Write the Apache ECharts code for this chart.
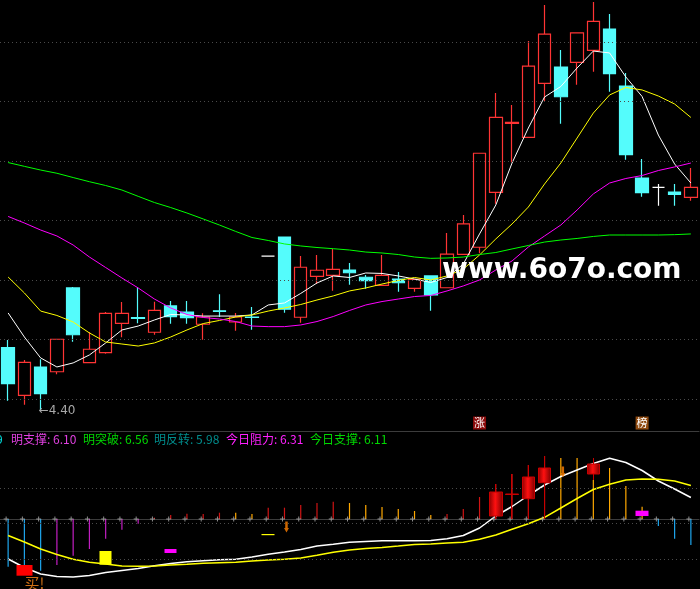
<!DOCTYPE html>
<html><head><meta charset="utf-8">
<script src="https://cdn.jsdelivr.net/npm/echarts@6/dist/echarts.min.js"></script>
<style>html,body{margin:0;padding:0;background:#000;}#c{width:700px;height:589px;}</style>
</head><body><div id="c"></div>
<script>
// ---------- data ----------
const categories = ['01','02','03','04','05','06','07','08','09','10','11','12','13','14','15','16','17','18','19','20','21','22','23','24','25','26','27','28','29','30','31','32','33','34','35','36','37','38','39','40','41','42','43'];
const openP  = [4.931,4.531,4.769,4.729,5.433,4.805,4.889,5.136,5.183,5.061,5.282,5.231,5.128,5.241,5.147,5.189,5.700,5.861,5.187,5.531,5.539,5.584,5.523,5.455,5.508,5.430,5.534,5.435,5.716,5.775,6.237,6.815,6.699,7.153,7.290,7.329,7.430,7.609,7.130,6.357,6.279,6.239,6.195];
const closeP = [4.629,4.808,4.545,5.002,5.040,4.918,5.220,5.220,5.178,5.245,5.192,5.183,5.189,5.237,5.189,5.185,5.700,5.254,5.607,5.582,5.590,5.561,5.494,5.539,5.477,5.506,5.374,5.718,5.971,6.565,6.867,6.825,7.298,7.567,7.040,7.576,7.674,7.234,6.553,6.234,6.279,6.220,6.279];
const lowP   = [4.486,4.452,4.400,4.708,4.982,4.805,4.881,5.018,5.136,5.040,5.133,5.133,4.998,5.189,5.074,5.082,5.700,5.225,5.141,5.466,5.410,5.460,5.427,5.455,5.402,5.402,5.242,5.435,5.716,5.724,6.141,6.489,6.699,7.004,6.813,7.141,7.250,7.082,6.511,6.200,6.124,6.124,6.166];
const highP  = [4.996,4.828,4.834,5.002,5.441,5.063,5.231,5.315,5.439,5.318,5.324,5.324,5.220,5.380,5.223,5.273,5.700,5.865,5.702,5.710,5.761,5.643,5.542,5.710,5.567,5.506,5.534,5.895,6.046,6.565,7.071,6.971,7.508,7.811,7.433,7.576,7.836,7.735,7.239,6.517,6.307,6.307,6.441];
const ma5  = [5.223,5.021,4.845,4.769,4.803,4.870,4.971,5.080,5.113,5.164,5.210,5.206,5.197,5.197,5.197,5.206,5.290,5.307,5.387,5.475,5.534,5.521,5.559,5.555,5.534,5.508,5.479,5.521,5.634,5.887,6.130,6.483,6.777,7.038,7.126,7.282,7.424,7.408,7.206,7.042,6.718,6.475,6.315];
const ma10 = [5.525,5.391,5.239,5.202,5.147,5.055,4.979,4.962,4.945,4.971,5.021,5.080,5.134,5.160,5.189,5.206,5.239,5.265,5.294,5.332,5.366,5.408,5.433,5.466,5.496,5.521,5.500,5.534,5.592,5.710,5.845,5.971,6.113,6.307,6.483,6.693,6.903,7.055,7.118,7.097,7.046,6.979,6.866];
const ma20 = [6.034,5.979,5.920,5.870,5.794,5.693,5.605,5.517,5.433,5.340,5.265,5.210,5.185,5.172,5.151,5.113,5.108,5.108,5.122,5.151,5.193,5.244,5.290,5.319,5.340,5.361,5.370,5.408,5.450,5.500,5.584,5.660,5.777,5.870,5.962,6.088,6.223,6.315,6.353,6.378,6.420,6.450,6.483];
const ma60 = [6.487,6.455,6.424,6.397,6.361,6.326,6.294,6.256,6.203,6.151,6.109,6.063,6.013,5.962,5.908,5.857,5.832,5.803,5.786,5.773,5.763,5.752,5.735,5.727,5.714,5.693,5.682,5.685,5.693,5.714,5.731,5.761,5.790,5.819,5.836,5.849,5.866,5.878,5.878,5.878,5.878,5.881,5.887];
const priceGridLevels = [4.5,5.0,5.5,6.0,6.5,7.0,7.5];
const lowNote = {idx: 2, value: 4.40, text: '←4.40'};
const flagIdx = [29, 39];
const flagText = ['涨','榜'];
const flagColor = ['#8a0a0a','#8f4a10'];
const flagLevel = 4.298;

// indicator panel
const indWhite  = [-40,-48.5,-55,-57.5,-58,-56.5,-53.5,-51.5,-49.5,-46.7,-44.5,-42.7,-41.7,-40.8,-40.2,-38,-35.3,-33,-30.5,-27,-25.3,-23.3,-22.5,-21.8,-21.7,-21.8,-21.5,-19.8,-16.5,-9,3,12.5,23.5,34,42.5,49,55.5,60.7,56.5,48.5,38,30,21.5];
const indYellow = [-16.5,-23,-30,-35.5,-40.3,-43.3,-45,-47,-47.3,-47,-46,-45.3,-44.3,-43.7,-43.3,-42,-41,-40.3,-39,-36.3,-33.3,-31,-29.4,-28.4,-27,-25.5,-25,-24,-23.2,-20.3,-16,-10.3,-4.8,1.7,11,20.5,29.5,34.7,39,40,39.7,38,33.5];
const stickVal  = [-47.7,-46,-51.7,-46,-36.7,-30,-19.7,-10.7,-4.7,1.3,4,5.3,5,6.3,6.3,5,11.3,11.3,14,16,17.3,16,14,12,10,8,4,5,10,22,35,45,54,63,61,61,39,51,33,12.3,-7,-19.7,-26];
const stickKind = ['C','C','C','M','M','M','M','M','M','R','R','R','R','R','O','O','R','R','R','R','R','O','O','O','O','O','O','R','R','R','R','R','R','R','O','O','O','O','O','O','C','C','C'];
const stickColors = {C:'#1ea6ee', M:'#c21ec2', R:'#d01414', O:'#ffa800'};
const barIdx  = [30,31,32,33,36];
const barOHLC = [[3,27,0,35],[24.5,25,0,45],[20.3,42,0,54],[36.3,51,0,63],[45,55,39,61]];
const sigIdx   = [6,10,16,39];
const sigRange = [[-32,-45.7],[-30,-34],[-15,-16.2],[8.3,3]];
const sigColor = ['#ffff00','#ff00ff','#ffff00','#ff00ff'];
const buyIdx = 1, buyRange = [-46,-56.7], buyText = '买!', buyTextLevel = -64;
const arrowIdx = [17,34], arrowLevel = [-8,47];
const indGridLevels = [30.7,-4.3,-40.3];
const legendItems = [
  {t:'9', c:'#00e0e0', x:-4},
  {t:'明支撑: 6.10', c:'#e040e0', x:11},
  {t:'明突破: 6.56', c:'#00d800', x:83},
  {t:'明反转: 5.98', c:'#008c8c', x:154},
  {t:'今日阻力: 6.31', c:'#ff20ff', x:226},
  {t:'今日支撑: 6.11', c:'#00d800', x:310}
];

// ---------- build ----------
const kData = categories.map((_, i) => [openP[i], closeP[i], lowP[i], highP[i]]);
const gridLine = {type:[1,3], color:'#4a4a4a', width:1};
const mkGrid = levels => ({silent:true, symbol:'none', label:{show:false}, lineStyle:gridLine, data: levels.map(v => ({yAxis:v}))});

const bottomK = categories.map(() => '-');
barIdx.forEach((idx, k) => { bottomK[idx] = barOHLC[k]; });
const sigData = categories.map(() => '-');
sigIdx.forEach((idx, k) => {
  const [a, b] = sigRange[k];
  sigData[idx] = {value:[a, b, Math.min(a,b), Math.max(a,b)], itemStyle:{color:sigColor[k], color0:sigColor[k], borderColor:sigColor[k], borderColor0:sigColor[k]}};
});
const buyData = categories.map(() => '-');
buyData[buyIdx] = [buyRange[0], buyRange[1], Math.min(...buyRange), Math.max(...buyRange)];

const redGrad = new echarts.graphic.LinearGradient(0,0,1,0,[
  {offset:0, color:'#8c0000'},{offset:0.45, color:'#ff1010'},{offset:1, color:'#7a0000'}]);

const option = {
  backgroundColor:'#000',
  animation:false,
  grid:[
    {left:-2, right:1, top:0, height:431},
    {left:-2, right:1, top:431, height:156}
  ],
  xAxis:[
    {type:'category', data:categories, gridIndex:0, axisLine:{show:true, lineStyle:{color:'#3c3c3c'}}, axisTick:{show:false}, axisLabel:{show:false}, splitLine:{show:false}},
    {type:'category', data:categories, gridIndex:1, axisLine:{show:true, lineStyle:{color:'#3c3c3c'}}, axisTick:{show:false}, axisLabel:{show:false}, splitLine:{show:false}}
  ],
  yAxis:[
    {type:'value', gridIndex:0, min:4.231, max:7.853, show:false},
    {type:'value', gridIndex:1, min:-68, max:88, show:false}
  ],
  series:[
    {type:'candlestick', name:'K', xAxisIndex:0, yAxisIndex:0, data:kData, barWidth:13,
     itemStyle:{color:'rgba(0,0,0,0)', color0:'#54fcfc', borderColor:'#ff3434', borderColor0:'#54fcfc', borderColorDoji:'#ffffff', borderWidth:1.2},
     markLine: mkGrid(priceGridLevels),
     markPoint:{silent:true, data:[
       {coord:[lowNote.idx, lowNote.value], symbol:'circle', symbolSize:0,
        label:{show:true, position:'right', distance:-2, formatter:lowNote.text, color:'#a8a8a8', fontSize:12, fontFamily:'DejaVu Sans'}},
       ...flagIdx.map((idx,k) => ({coord:[idx, flagLevel], symbol:'rect', symbolSize:[13,13], itemStyle:{color:flagColor[k]},
        label:{show:true, position:'inside', formatter:flagText[k], color:'#fff', fontSize:11, fontFamily:'Noto Sans CJK SC'}}))
     ]}
    },
    {type:'line', name:'MA5', data:ma5, symbol:'none', lineStyle:{color:'#ffffff', width:1}, z:3},
    {type:'line', name:'MA10', data:ma10, symbol:'none', lineStyle:{color:'#ffff00', width:1}, z:3},
    {type:'line', name:'MA20', data:ma20, symbol:'none', lineStyle:{color:'#ff00ff', width:1}, z:3},
    {type:'line', name:'MA60', data:ma60, symbol:'none', lineStyle:{color:'#00ff00', width:1}, z:3},

    {type:'bar', name:'stick', xAxisIndex:1, yAxisIndex:1, barWidth:1.2,
     data: stickVal.map((v,i) => ({value:v, itemStyle:{color:stickColors[stickKind[i]]}})),
     markLine: mkGrid(indGridLevels)},
    {type:'scatter', name:'base', xAxisIndex:1, yAxisIndex:1, data: categories.map(() => 0),
     symbol:'path://M2,0H3V2H5V3H3V5H2V3H0V2H2Z', symbolSize:5, symbolOffset:[-2,0], itemStyle:{color:'#b0b0b0'}, z:4},
    {type:'candlestick', name:'bars', xAxisIndex:1, yAxisIndex:1, data:bottomK, barWidth:13,
     itemStyle:{color:redGrad, color0:redGrad, borderColor:'#c80000', borderColor0:'#c80000', borderColorDoji:'#d00000', borderWidth:1}, z:5},
    {type:'candlestick', name:'signals', xAxisIndex:1, yAxisIndex:1, data:sigData, barWidth:13, itemStyle:{borderWidth:0}, z:5},
    {type:'candlestick', name:'buy', xAxisIndex:1, yAxisIndex:1, data:buyData, barWidth:17,
     itemStyle:{color:'#ff0000', color0:'#ff0000', borderColor:'#ff0000', borderColor0:'#ff0000', borderWidth:0}, z:5},
    {type:'scatter', name:'buyText', xAxisIndex:1, yAxisIndex:1, data:[[buyIdx, buyTextLevel]], symbolSize:0,
     label:{show:true, position:'right', distance:0, formatter:buyText, color:'#ff8a1a', fontSize:15, fontFamily:'Noto Sans CJK SC'}, z:6},
    {type:'scatter', name:'arrow', xAxisIndex:1, yAxisIndex:1, data: arrowIdx.map((idx,k) => [idx, arrowLevel[k]]),
     symbol:'path://M1,0H3V6H4L2,10L0,6H1Z', symbolSize:[5,11], symbolOffset:[2,0], itemStyle:{color:'#ff8000'}, z:6},
    {type:'line', name:'indW', xAxisIndex:1, yAxisIndex:1, data:indWhite, symbol:'none', lineStyle:{color:'#ffffff', width:1.5}, z:4},
    {type:'line', name:'indY', xAxisIndex:1, yAxisIndex:1, data:indYellow, symbol:'none', lineStyle:{color:'#ffff00', width:1.5}, z:4}
  ],
  graphic:[
    {type:'text', left:442, top:257, z:100, style:{text:'www.6o7o.com', fill:'#ffffff', font:'bold 28px "DejaVu Sans"'}},
    ...legendItems.map(it => ({type:'text', x:it.x, y:439, z:100, style:{text:it.t, fill:it.c, font:'12px "Noto Sans CJK SC"', verticalAlign:'middle'}}))
  ]
};
const chart = echarts.init(document.getElementById('c'), null, {renderer:'canvas'});
chart.setOption(option);
</script></body></html>
